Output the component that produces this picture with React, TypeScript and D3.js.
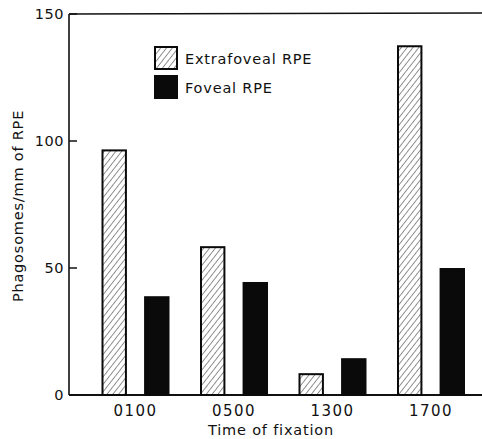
import React from 'react';
import * as d3 from 'd3';

// Phagosome counts in extrafoveal vs foveal RPE at four fixation times.
const times = ['0100', '0500', '1300', '1700'];
const extrafoveal = [96.3, 58.2, 8.2, 137.3];
const foveal = [38.5, 44.1, 14.1, 49.6];
const series = ['Extrafoveal RPE', 'Foveal RPE'];
const yTicks = [0, 50, 100, 150];

const W = 482;
const H = 439;
const LEFT = 69;
const TOP = 14;
const BOTTOM = 395;
const FONT = '"DejaVu Sans", sans-serif';

const App = () => {
  const y = d3.scaleLinear().domain([0, 150]).range([BOTTOM, TOP]);
  const x = d3.scalePoint<string>().domain(times).range([135.5, 431]);
  const inner = d3.scaleBand<string>().domain(series).range([-33, 33]).paddingInner(0.45);
  const bw = inner.bandwidth();

  const bars = times.flatMap((t, i) => [
    { t, key: series[0], v: extrafoveal[i] },
    { t, key: series[1], v: foveal[i] },
  ]);

  return (
    <svg width={W} height={H} style={{ position: 'absolute', left: 0, top: 0 }}>
      <defs>
        <pattern id="hatch" width="4.6" height="4.6" patternUnits="userSpaceOnUse" patternTransform="rotate(38)">
          <line x1="0" y1="0" x2="0" y2="4.6" stroke="#222" strokeWidth="1" />
        </pattern>
      </defs>
      <rect width={W} height={H} fill="white" />

      {/* frame */}
      <line x1={LEFT} x2={LEFT} y1={TOP} y2={BOTTOM} stroke="#111" strokeWidth={1.6} />
      <line x1={LEFT} x2={W} y1={TOP} y2={TOP - 1} stroke="#111" strokeWidth={1.4} />
      <line x1={LEFT} x2={W} y1={BOTTOM} y2={BOTTOM} stroke="#111" strokeWidth={1.8} />

      {/* y ticks */}
      {yTicks.map((v) => (
        <g key={v}>
          <line x1={LEFT} x2={LEFT + 8} y1={y(v)} y2={y(v)} stroke="#111" strokeWidth={1.5} />
          <text
            x={LEFT - 5}
            y={y(v) + 5}
            textAnchor="end"
            fontFamily={FONT}
            fontSize={14.5}
            letterSpacing={0.5}
            fill="#111"
          >
            {v}
          </text>
        </g>
      ))}

      {/* bars */}
      {bars.map((b) => {
        const bx = (x(b.t) as number) + (inner(b.key) as number);
        const top = y(b.v);
        return (
          <rect
            key={b.t + b.key}
            x={bx}
            y={top}
            width={bw}
            height={BOTTOM - top}
            fill={b.key === series[0] ? 'url(#hatch)' : '#0a0a0a'}
            stroke="#0a0a0a"
            strokeWidth={2}
          />
        );
      })}

      {/* x labels */}
      {times.map((t) => (
        <text
          key={t}
          x={x(t)}
          y={416}
          textAnchor="middle"
          fontFamily={FONT}
          fontSize={15}
          letterSpacing={1.5}
          fill="#111"
        >
          {t}
        </text>
      ))}
      <text x={271} y={435} textAnchor="middle" fontFamily={FONT} fontSize={14.5} letterSpacing={0.8} fill="#111">
        Time of fixation
      </text>
      <text
        transform={`translate(23,206) rotate(-90)`}
        textAnchor="middle"
        fontFamily={FONT}
        fontSize={14.5}
        letterSpacing={0.8}
        fill="#111"
      >
        Phagosomes/mm of RPE
      </text>

      {/* legend */}
      {series.map((s, i) => (
        <g key={s} transform={`translate(155,${47 + i * 29})`}>
          <rect
            width={22}
            height={22}
            fill={i === 0 ? 'url(#hatch)' : '#0a0a0a'}
            stroke="#0a0a0a"
            strokeWidth={2}
          />
          <text x={30} y={17} fontFamily={FONT} fontSize={14.5} letterSpacing={0.8} fill="#111">
            {s}
          </text>
        </g>
      ))}
    </svg>
  );
};

export default App;
